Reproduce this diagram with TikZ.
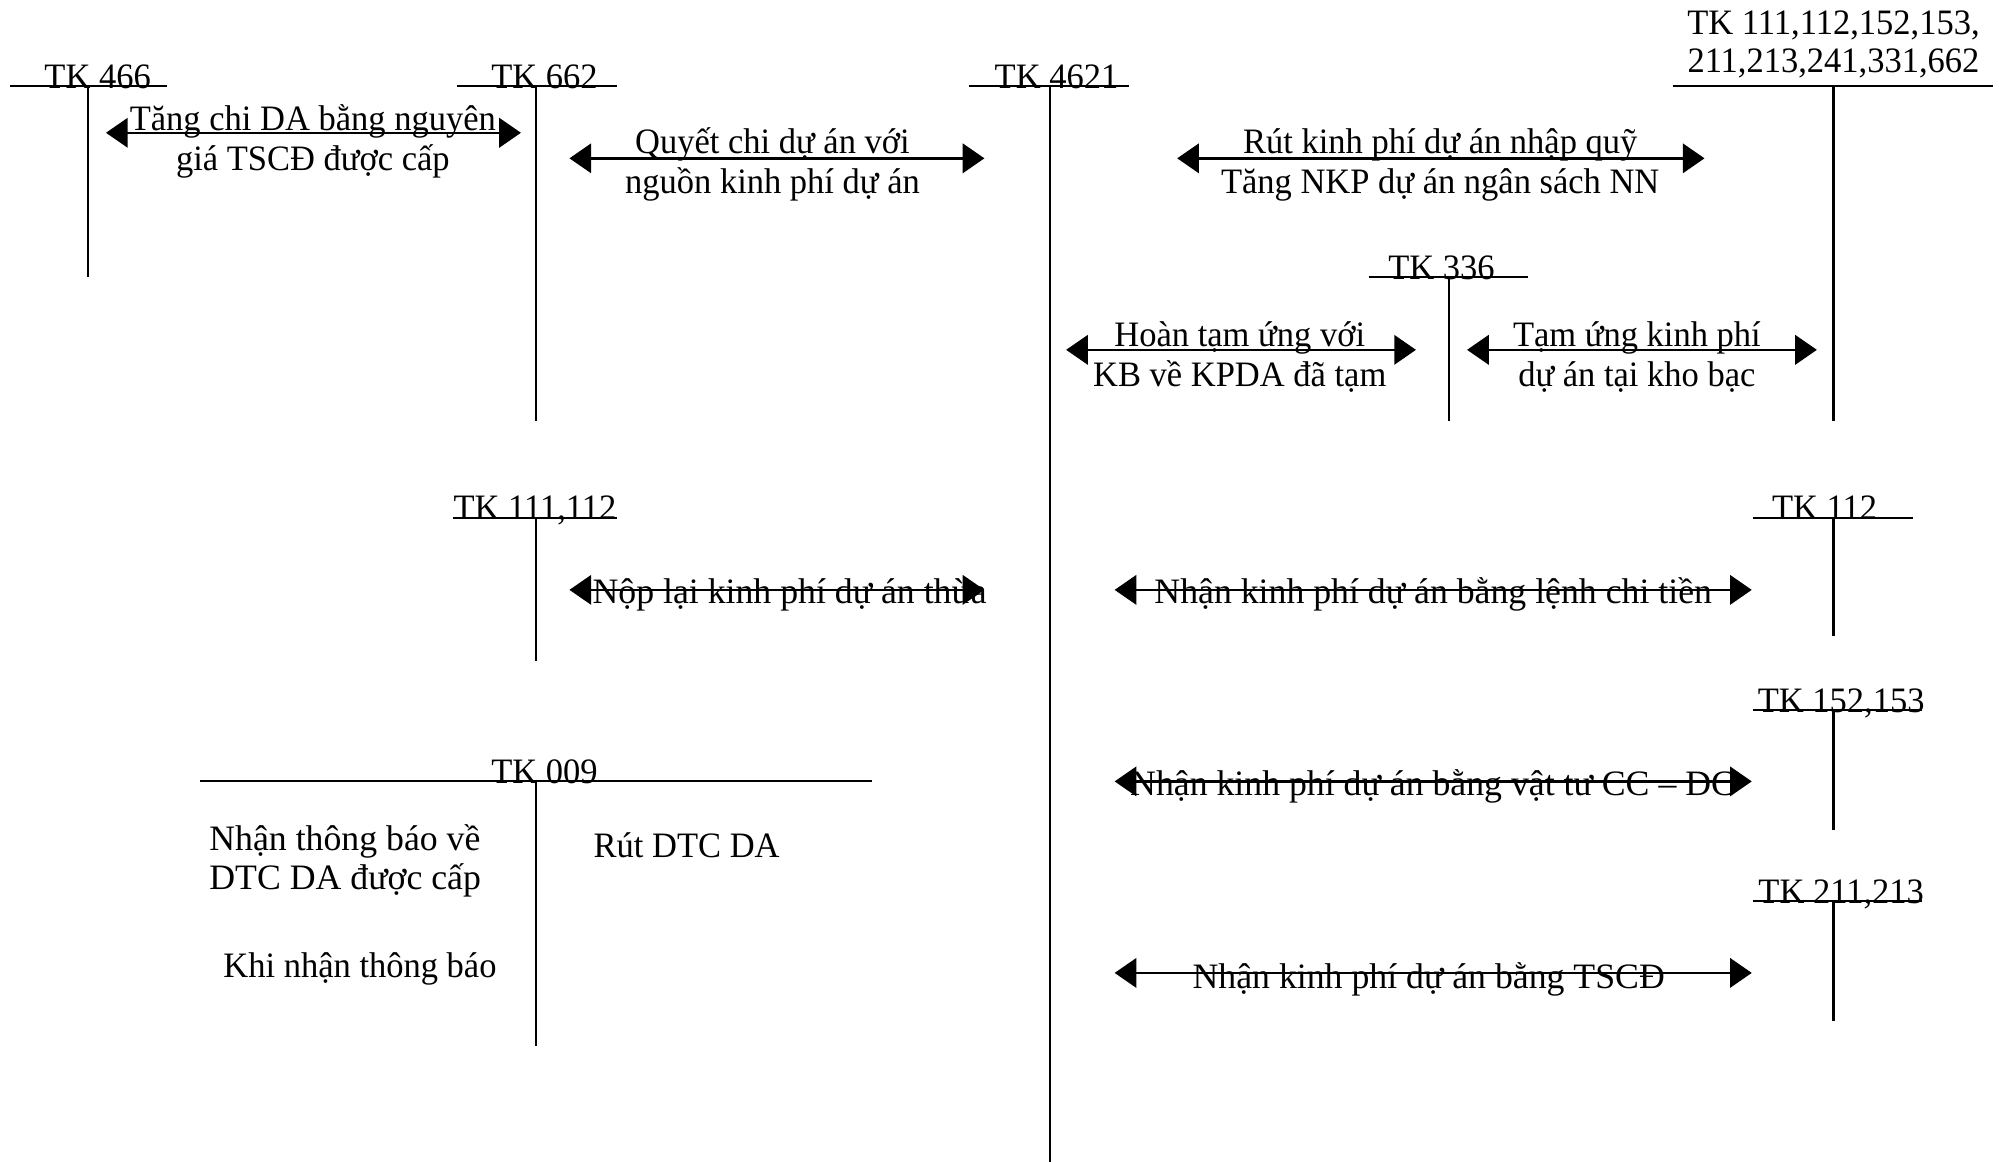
\documentclass[tikz,border=0pt]{standalone}
\usepackage{fontspec}
\setmainfont{Liberation Serif}[FakeStretch=0.965]
\newfontfamily\plainserif{Liberation Serif}
\usetikzlibrary{arrows.meta}
\begin{document}
\begin{tikzpicture}[x=0.5pt,y=-0.5pt,
  every node/.style={font=\fontsize{14}{15.7}\selectfont, inner sep=0pt, outer sep=0pt},
  tline/.style={line width=0.8pt},
  flow/.style={line width=1pt, {Triangle[length=8.5pt,width=11.5pt]}-{Triangle[length=8.5pt,width=11.5pt]}},
  txt/.style={anchor=base},
  wtxt/.style={anchor=base, font=\plainserif\fontsize{14}{15.7}\selectfont},
  ltxt/.style={anchor=base west}]
\useasboundingbox (0,0) rectangle (1568,910);

% ---- T-account heads: title, top rule, stem ----
\node[txt] (n466) at (76.5,69) {TK 466};
\coordinate (h466l) at (8,67);   \coordinate (h466r) at (131,67);
\coordinate (v466t) at (69,67);  \coordinate (v466b) at (69,217);

\node[txt] (n662) at (426.5,69) {TK 662};
\coordinate (h662l) at (358,67); \coordinate (h662r) at (483,67);
\coordinate (v662t) at (420,67); \coordinate (v662b) at (420,330);

\node[txt] (n4621) at (827.5,69) {TK 4621};
\coordinate (h4621l) at (759,67); \coordinate (h4621r) at (884,67);
\coordinate (v4621t) at (822,67); \coordinate (v4621b) at (822,910);

\node[txt] (nmix1) at (1436,27) {TK 111,112,152,153,};
\node[txt] (nmix2) at (1436,57) {211,213,241,331,662};
\coordinate (hmixl) at (1310,67); \coordinate (hmixr) at (1561,67);
\coordinate (vmixt) at (1436,67); \coordinate (vmixb) at (1436,330);

\node[txt] (n336) at (1129,219) {TK 336};
\coordinate (h336l) at (1072,217); \coordinate (h336r) at (1197,217);
\coordinate (v336t) at (1135,217); \coordinate (v336b) at (1135,330);

\node[txt] (n111) at (419,407) {TK 111,112};
\coordinate (h111l) at (355,406); \coordinate (h111r) at (483,406);
\coordinate (v111t) at (420,406); \coordinate (v111b) at (420,518);

\node[txt] (n112) at (1429,407) {TK 112};
\coordinate (h112l) at (1373,406); \coordinate (h112r) at (1498,406);
\coordinate (v112t) at (1436,406); \coordinate (v112b) at (1436,498);

\node[txt] (n152) at (1442,558) {TK 152,153};
\coordinate (h152l) at (1373,556); \coordinate (h152r) at (1505,556);
\coordinate (v152t) at (1436,556); \coordinate (v152b) at (1436,650);

\node[txt] (n211) at (1442,708) {TK 211,213};
\coordinate (h211l) at (1373,706); \coordinate (h211r) at (1505,706);
\coordinate (v211t) at (1436,706); \coordinate (v211b) at (1436,800);

\node[txt] (n009) at (426.5,614) {TK 009};
\coordinate (h009l) at (157,612); \coordinate (h009r) at (683,612);
\coordinate (v009t) at (420,612); \coordinate (v009b) at (420,819);

\foreach \a in {466,662,4621,mix,336,111,112,152,211,009}{
  \draw[tline] (h\a l) -- (h\a r);
  \draw[tline] (v\a t) -- (v\a b);
}

% ---- entries of TK 009 ----
\node[ltxt, font=\plainserif\fontsize{14}{15.7}\selectfont] (e1a) at (164,666) {Nhận thông báo về};
\node[ltxt, font=\plainserif\fontsize{14}{15.7}\selectfont] (e1b) at (164,697) {DTC DA được cấp};
\node[ltxt] (e2)  at (175,765.5) {Khi nhận thông báo};
\node[ltxt] (e3)  at (465,671.5) {Rút DTC DA};

% ---- double-headed flows with their captions ----
\coordinate (a1l) at (83,104);   \coordinate (a1r) at (408,104);
\draw[flow] (a1l) -- (a1r);
\node[txt] (l1a) at (245,102) {Tăng chi DA bằng nguyên};
\node[txt] (l1b) at (245,133.5) {giá TSCĐ được cấp};

\coordinate (a2l) at (446,124);  \coordinate (a2r) at (771,124);
\draw[flow] (a2l) -- (a2r);
\node[txt] (l2a) at (605,120) {Quyết chi dự án với};
\node[txt] (l2b) at (605,151.5) {nguồn kinh phí dự án};

\coordinate (a3l) at (922,124);  \coordinate (a3r) at (1335,124);
\draw[flow] (a3l) -- (a3r);
\node[txt] (l3a) at (1128,120) {Rút kinh phí dự án nhập quỹ};
\node[txt] (l3b) at (1128,151.5) {Tăng NKP dự án ngân sách NN};

\coordinate (a4l) at (835,274);  \coordinate (a4r) at (1109,274);
\draw[flow] (a4l) -- (a4r);
\node[txt] (l4a) at (971,271) {Hoàn tạm ứng với};
\node[txt] (l4b) at (971,302.5) {KB về KPDA đã tạm};

\coordinate (a5l) at (1149,274); \coordinate (a5r) at (1423,274);
\draw[flow] (a5l) -- (a5r);
\node[txt] (l5a) at (1282,271) {Tạm ứng kinh phí};
\node[txt] (l5b) at (1282,302.5) {dự án tại kho bạc};

\coordinate (a6l) at (446,462);  \coordinate (a6r) at (771,462);
\draw[flow] (a6l) -- (a6r);
\node[wtxt] (l6) at (618.5,473) {Nộp lại kinh phí dự án thừa};

\coordinate (a7l) at (873,462);  \coordinate (a7r) at (1372,462);
\draw[flow] (a7l) -- (a7r);
\node[wtxt] (l7) at (1122.5,473) {Nhận kinh phí dự án bằng lệnh chi tiền};

\coordinate (a8l) at (873,612);  \coordinate (a8r) at (1372,612);
\draw[flow] (a8l) -- (a8r);
\node[wtxt] (l8) at (1122,623) {Nhận kinh phí dự án bằng vật tư CC – DC};

\coordinate (a9l) at (873,762);  \coordinate (a9r) at (1372,762);
\draw[flow] (a9l) -- (a9r);
\node[wtxt] (l9) at (1119,774) {Nhận kinh phí dự án bằng TSCĐ};
\end{tikzpicture}
\end{document}
